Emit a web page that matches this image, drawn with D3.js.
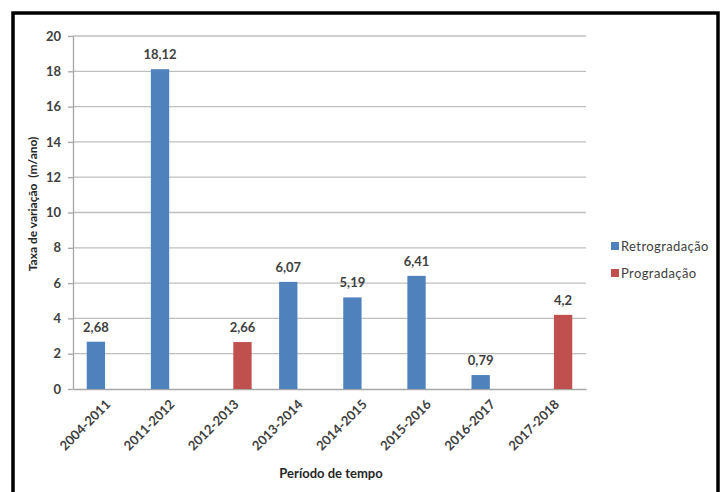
<!DOCTYPE html>
<html>
<head>
<meta charset="utf-8">
<script src="https://cdn.jsdelivr.net/npm/d3@7"></script>
<style>
  body { margin: 0; background: #fff; }
  text { font-family: Lato, "Open Sans", sans-serif; }
</style>
</head>
<body>
<script>
const categories = ["2004-2011", "2011-2012", "2012-2013", "2013-2014", "2014-2015", "2015-2016", "2016-2017", "2017-2018"];
const seriesNames = ["Retrogradação", "Progradação"];
const retrogradacao = [2.68, 18.12, null, 6.07, 5.19, 6.41, 0.79, null];
const progradacao = [null, null, 2.66, null, null, null, null, 4.2];
const yTicks = [0, 2, 4, 6, 8, 10, 12, 14, 16, 18, 20];
const colors = ["#4f81bd", "#c0504d"];

const width = 723, height = 492;
const margin = { top: 36, right: 137, bottom: 103, left: 73 };

const svg = d3.select("body").append("svg")
  .attr("width", width)
  .attr("height", height);

// outer frame
svg.append("rect")
  .attr("x", 13).attr("y", 13)
  .attr("width", 705).attr("height", 500)
  .attr("fill", "none")
  .attr("stroke", "#000")
  .attr("stroke-width", 3.5);

const x = d3.scaleBand()
  .domain(categories)
  .range([margin.left, width - margin.right])
  .padding(0);

const x1 = d3.scaleBand()
  .domain(seriesNames)
  .range([0, x.bandwidth()])
  .paddingInner(0)
  .paddingOuter(0.75);

const y = d3.scaleLinear()
  .domain([0, 20])
  .range([height - margin.bottom, margin.top]);

// gridlines
svg.append("g")
  .selectAll("line")
  .data(yTicks.slice(1))
  .join("line")
  .attr("x1", margin.left)
  .attr("x2", width - margin.right)
  .attr("y1", d => y(d))
  .attr("y2", d => y(d))
  .attr("stroke", "#bfbfbf")
  .attr("stroke-width", 1.3);

// y axis
const yAxis = svg.append("g")
  .attr("transform", `translate(${margin.left},0)`)
  .call(d3.axisLeft(y).tickValues(yTicks).tickSize(5).tickPadding(7).tickSizeOuter(0));
yAxis.select(".domain").attr("stroke", "#a6a6a6").attr("stroke-width", 1.3);
yAxis.selectAll(".tick line").attr("stroke", "#a6a6a6").attr("stroke-width", 1.3);
yAxis.selectAll(".tick text")
  .attr("font-size", 13)
  .attr("font-weight", "bold")
  .attr("fill", "#404040");

// x axis
const xAxis = svg.append("g")
  .attr("transform", `translate(0,${y(0)})`)
  .call(d3.axisBottom(x).tickSize(0).tickSizeOuter(0).tickFormat(""));
xAxis.select(".domain").attr("stroke", "#a6a6a6").attr("stroke-width", 1.5);

svg.append("g")
  .selectAll("text")
  .data(categories)
  .join("text")
  .attr("transform", d => `translate(${x(d) + x.bandwidth() / 2 + 3},${y(0) + 13}) rotate(-45)`)
  .attr("text-anchor", "end")
  .attr("dy", "0.35em")
  .attr("font-size", 13)
  .attr("font-weight", "bold")
  .attr("fill", "#404040")
  .text(d => d);

// bars
const seriesData = [retrogradacao, progradacao];
seriesData.forEach((vals, si) => {
  const pts = categories.map((c, i) => ({ c, v: vals[i] })).filter(d => d.v != null);
  const g = svg.append("g");
  g.selectAll("rect")
    .data(pts)
    .join("rect")
    .attr("x", d => x(d.c) + x1(seriesNames[si]))
    .attr("y", d => y(d.v))
    .attr("width", x1.bandwidth())
    .attr("height", d => y(0) - y(d.v))
    .attr("fill", colors[si]);
  g.selectAll("text")
    .data(pts)
    .join("text")
    .attr("x", d => x(d.c) + x1(seriesNames[si]) + x1.bandwidth() / 2)
    .attr("y", d => y(d.v) - 10)
    .attr("text-anchor", "middle")
    .attr("font-size", 13)
    .attr("font-weight", "bold")
    .attr("fill", "#404040")
    .text(d => String(d.v).replace(".", ","));
});

// axis titles
svg.append("text")
  .attr("transform", `translate(37,204) rotate(-90)`)
  .attr("text-anchor", "middle")
  .attr("font-size", 12)
  .attr("font-weight", "bold")
  .attr("fill", "#262626")
  .style("white-space", "pre")
  .text("Taxa de variação  (m/ano)");

svg.append("text")
  .attr("x", 331)
  .attr("y", 478)
  .attr("text-anchor", "middle")
  .attr("font-size", 13)
  .attr("font-weight", "bold")
  .attr("fill", "#262626")
  .text("Período de tempo");

// legend
const legend = svg.append("g")
  .selectAll("g")
  .data(seriesNames)
  .join("g")
  .attr("transform", (d, i) => `translate(611,${246 + i * 27})`);
legend.append("rect")
  .attr("x", 0).attr("y", -4)
  .attr("width", 8).attr("height", 8)
  .attr("fill", (d, i) => colors[i]);
legend.append("text")
  .attr("x", 10)
  .attr("dy", "0.35em")
  .attr("font-size", 13)
  .attr("letter-spacing", 0.4)
  .attr("fill", "#404040")
  .text(d => d);
</script>
</body>
</html>
